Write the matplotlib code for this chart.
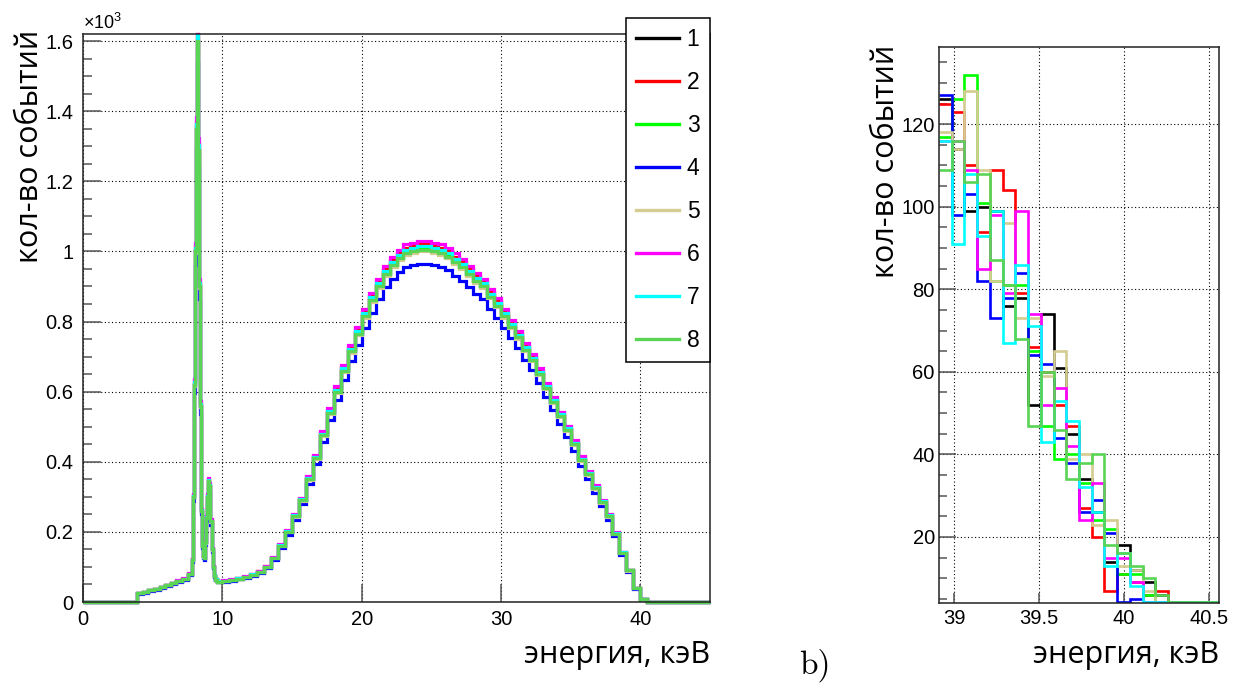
import numpy as np
import matplotlib.pyplot as plt
from matplotlib.lines import Line2D
from matplotlib.ticker import MultipleLocator, FixedLocator

plt.rcParams['font.family'] = ['Liberation Sans', 'DejaVu Sans']
plt.rcParams['mathtext.fontset'] = 'custom'
plt.rcParams['mathtext.rm'] = 'Liberation Sans'

W, H = 1244, 695

labels = ['1', '2', '3', '4', '5', '6', '7', '8']
colors = ['#000000', '#ff0000', '#00ff00', '#0000ff',
          '#d4cc90', '#ff00ff', '#00ffff', '#59d454']

# full spectrum, keV bin edges and counts
spec_edges = ([0, 3.9, 4.3, 4.7, 5.1, 5.5, 5.9, 6.3, 6.7, 7.1, 7.5, 7.8,
               7.875, 7.95, 8.025, 8.1, 8.175, 8.25, 8.325, 8.4, 8.475,
               8.55, 8.625, 8.7, 8.775, 8.85, 8.925, 9.0, 9.075, 9.15,
               9.225, 9.3, 9.375, 9.45, 9.6]
              + [10 + 0.5 * i for i in range(62)] + [45])
spec_counts = [0, 25, 28, 33, 37, 42, 48, 54, 60, 66, 80,
               120, 300, 620, 1000, 1350, 1600, 1290, 900, 560, 260,
               160, 130, 125, 170, 240, 300, 345, 330, 230, 150, 100, 75, 64, 58,
               60, 63, 67, 71, 78, 86, 100, 125, 160, 200,
               245, 290, 350, 410, 475, 540, 600, 660, 715, 765,
               815, 860, 900, 935, 960, 980, 995, 1000, 1005, 1005,
               1000, 995, 985, 970, 955, 935, 915, 900, 870, 845,
               815, 785, 755, 720, 690, 650, 610, 570, 530, 490,
               450, 405, 365, 325, 285, 245, 195, 140, 90, 40,
               8, 1]
# relative level of each run
spec_scale = [1.0, 1.015, 1.005, 0.96, 0.995, 1.025, 1.01, 1.0]

# zoom on the end point 38.9 - 40.6 keV
zoom_edges = np.round(38.911 + 0.075 * np.arange(23), 3)
zoom_1 = [126, 114, 99, 100, 99, 76, 78, 52, 74, 61, 45, 34, 26, 14, 18, 12, 9, 6, 0, 0, 0, 0]
zoom_2 = [125, 123, 110, 94, 109, 104, 79, 66, 60, 52, 47, 27, 20, 7, 11, 9, 6, 7, 0, 0, 0, 0]
zoom_3 = [117, 126, 132, 101, 82, 81, 81, 65, 47, 39, 40, 33, 24, 22, 11, 11, 6, 0, 0, 0, 0, 0]
zoom_4 = [127, 98, 103, 82, 73, 78, 84, 64, 62, 44, 38, 26, 29, 21, 0, 5, 0, 0, 0, 0, 0, 0]
zoom_5 = [118, 114, 128, 109, 82, 96, 73, 73, 59, 65, 39, 40, 23, 24, 13, 12, 7, 4, 0, 0, 0, 0]
zoom_6 = [116, 116, 109, 85, 98, 79, 99, 74, 52, 56, 42, 24, 33, 15, 15, 9, 4, 0, 0, 0, 0, 0]
zoom_7 = [116, 91, 108, 93, 99, 67, 86, 71, 43, 53, 48, 32, 26, 13, 16, 8, 0, 0, 0, 0, 0, 0]
zoom_8 = [109, 116, 106, 108, 87, 81, 68, 47, 60, 46, 34, 38, 40, 18, 16, 13, 10, 6, 0, 0, 0, 0]
zoom_counts = [zoom_1, zoom_2, zoom_3, zoom_4, zoom_5, zoom_6, zoom_7, zoom_8]

fig = plt.figure(figsize=(W / 100, H / 100), dpi=100)
ax1 = fig.add_axes([83 / W, 1 - 602 / H, (710 - 83) / W, (602 - 34) / H])
ax2 = fig.add_axes([939 / W, 1 - 603 / H, (1219 - 939) / W, (603 - 47) / H])

spec_ymax = 1620
zoom_ymin = 4
for i in range(8):
    ax1.stairs(np.minimum(np.array(spec_counts) * spec_scale[i], spec_ymax), spec_edges,
               color=colors[i], lw=2.3, baseline=None, clip_on=False)
    # empty bins are drawn on the frame, as ROOT does
    ax2.stairs(np.clip(zoom_counts[i], zoom_ymin + 0.3, None), zoom_edges,
               color=colors[i], lw=1.9, baseline=None)

grid_kw = dict(color='black', lw=0.8, ls=(0, (1, 2.2)))

ax1.set_xlim(0, 45)
ax1.set_ylim(0, spec_ymax)
ax1.xaxis.set_major_locator(MultipleLocator(10))
ax1.yaxis.set_minor_locator(MultipleLocator(50))
ax1.set_yticks([0, 200, 400, 600, 800, 1000, 1200, 1400, 1600])
ax1.set_yticklabels(['0', '0.2', '0.4', '0.6', '0.8', '1', '1.2', '1.4', '1.6'])
ax1.grid(True, which='major', **grid_kw)

ax2.set_xlim(zoom_edges[0], zoom_edges[-1])
ax2.set_ylim(zoom_ymin, 138.7)
ax2.set_xticks([39, 39.5, 40, 40.5])
ax2.set_xticklabels(['39', '39.5', '40', '40.5'])
ax2.yaxis.set_major_locator(FixedLocator([20, 40, 60, 80, 100, 120]))
ax2.yaxis.set_minor_locator(MultipleLocator(5))
ax2.grid(True, which='major', **grid_kw)

for ax, ylen in ((ax1, 13), (ax2, 12)):
    for s in ax.spines.values():
        s.set_linewidth(1.1)
        s.set_color('#222222')
    ax.set_axisbelow(True)
    ax.tick_params(axis='both', which='both', direction='in', color='#555555',
                   width=1.1, labelsize=14.5, top=False, right=False)
    ax.tick_params(axis='y', which='major', length=ylen)
    ax.tick_params(axis='y', which='minor', length=ylen / 2)
ax1.tick_params(axis='x', which='major', length=13, pad=6)
ax1.tick_params(axis='y', which='major', pad=7)
ax2.tick_params(axis='x', which='major', length=7, pad=4)
ax2.tick_params(axis='y', which='major', pad=3)

fig.text(83 / W, 1 - 33 / H, r'$\mathregular{\times10^{3}}$', fontsize=13,
         ha='left', va='bottom')

handles = [Line2D([], [], color=c, lw=2.4) for c in colors]
leg = ax1.legend(handles, labels, loc='upper left',
                 bbox_to_anchor=(626 / W, 1 - 18 / H), bbox_transform=fig.transFigure,
                 frameon=True, fancybox=False, edgecolor='black', framealpha=1,
                 borderaxespad=0, handlelength=1.85, handletextpad=0.35,
                 labelspacing=0.87, borderpad=0.45, prop={'size': 16.5})
leg.get_frame().set_linewidth(1.1)
leg.set_zorder(5)

lab_kw = dict(fontsize=22, family=['Open Sans', 'DejaVu Sans'])
fig.text(30 / W, 1 - 30 / H, 'кол-во событий', rotation=90, ha='center', va='top', **lab_kw)
fig.text(710 / W, 1 - 655 / H, 'энергия, кэВ', ha='right', va='center', **lab_kw)
fig.text(886 / W, 1 - 45 / H, 'кол-во событий', rotation=90, ha='center', va='top', **lab_kw)
fig.text(1219 / W, 1 - 655 / H, 'энергия, кэВ', ha='right', va='center', **lab_kw)
fig.text(815 / W, 1 - 665 / H, 'b)', fontsize=24, family='cmr10', ha='center', va='center')

fig.savefig('out.png', dpi=100)
